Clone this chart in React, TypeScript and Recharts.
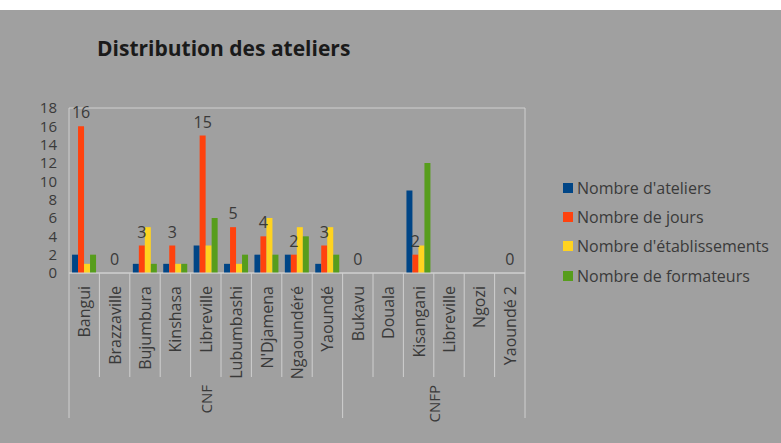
import React from "react";
import { ComposedChart, Bar, Line, XAxis, YAxis, CartesianGrid, LabelList } from "recharts";

const categories = ["Bangui", "Brazzaville", "Bujumbura", "Kinshasa", "Libreville", "Lubumbashi", "N'Djamena", "Ngaoundéré", "Yaoundé", "Bukavu", "Douala", "Kisangani", "Libreville", "Ngozi", "Yaoundé 2"];
const groups = ["CNF", "CNF", "CNF", "CNF", "CNF", "CNF", "CNF", "CNF", "CNF", "CNFP", "CNFP", "CNFP", "CNFP", "CNFP", "CNFP"];
const ateliers = [2, 0, 1, 1, 3, 1, 2, 2, 1, 0, null, 9, null, null, 0];
const jours = [16, 0, 3, 3, 15, 5, 4, 2, 3, 0, null, 2, null, null, 0];
const etablissements = [1, 0, 5, 1, 3, 1, 6, 5, 5, 0, null, 3, null, null, 0];
const formateurs = [2, 0, 1, 1, 6, 2, 2, 4, 2, 0, null, 12, null, null, 0];
const yTicks = [0, 2, 4, 6, 8, 10, 12, 14, 16, 18];

const seriesNames = ["Nombre d'ateliers", "Nombre de jours", "Nombre d'établissements", "Nombre de formateurs"];
const colors = ["#004586", "#ff420e", "#ffd320", "#579d1c"];

const data = categories.map((c, i) => ({
  name: c,
  group: groups[i],
  ateliers: ateliers[i],
  jours: jours[i],
  etablissements: etablissements[i],
  formateurs: formateurs[i],
  joursZero: jours[i] === 0 ? 0 : null,
}));

const W = 781;
const H = 433;
const M = { top: 98, right: 255, left: 29, bottom: 10 };
const YW = 40;
const PLOT_W = W - M.left - YW - M.right - 1;
const STEP = PLOT_W / categories.length;
const FONT = "'Open Sans', 'Noto Sans', sans-serif";
const LINE = "#cfcfcf";
const TXT = "#3a3a3a";

const CatTick = (props: any) => {
  const { x, y, payload, index } = props;
  const i = typeof index === "number" ? index : categories.indexOf(payload.value);
  const left = x - STEP / 2;
  const right = x + STEP / 2;
  const isGroupStart = i === 0 || groups[i] !== groups[i - 1];
  const isLast = i === categories.length - 1;
  const els: any[] = [];
  els.push(<line key="l" x1={left} x2={left} y1={y} y2={y + (isGroupStart ? 145 : 104)} stroke={LINE} strokeWidth={1} />);
  if (isLast) els.push(<line key="r" x1={right} x2={right} y1={y} y2={y + 145} stroke={LINE} strokeWidth={1} />);
  els.push(
    <text key="t" x={0} y={0} transform={`translate(${x + 6},${y + 13}) rotate(-90)`} textAnchor="end" fill={TXT} fontSize={16} fontFamily={FONT}>
      {payload.value}
    </text>
  );
  const gName = groups[i];
  const gIdx = groups.map((g, k) => (g === gName ? k : -1)).filter((k) => k >= 0);
  const mid = (gIdx[0] + gIdx[gIdx.length - 1]) / 2;
  if (Math.floor(mid) === i) {
    const gx = x + (mid - i) * STEP;
    els.push(
      <text key="g" x={0} y={0} transform={`translate(${gx + 6},${y + 112}) rotate(-90)`} textAnchor="end" fill={TXT} fontSize={15} fontFamily={FONT}>
        {gName}
      </text>
    );
  }
  return <g>{els}</g>;
};

const JoursLabel = (props: any) => {
  const { x, y, width, value } = props;
  if (value === null || value === undefined) return null;
  const cx = x + (width || 0) / 2;
  return (
    <text x={cx} y={y - 8} textAnchor="middle" fill={TXT} fontSize={16} fontFamily={FONT}>
      {value}
    </text>
  );
};

const LegendBox = () => (
  <div style={{ position: "absolute", left: 563, top: 163, fontFamily: FONT, fontSize: 16, color: TXT }}>
    {seriesNames.map((n, i) => (
      <div key={n} style={{ display: "flex", alignItems: "center", height: 29.4, whiteSpace: "nowrap" }}>
        <span style={{ display: "inline-block", width: 10, height: 10, background: colors[i], marginRight: 4 }} />
        <span>{n}</span>
      </div>
    ))}
  </div>
);

export default function App() {
  return (
    <div style={{ position: "fixed", left: 0, top: 0, width: W, height: 443, background: "#ffffff" }}>
      <div style={{ position: "absolute", left: 0, top: 10, width: W, height: H, background: "#a0a0a0" }}>
        <div style={{ position: "absolute", left: 97, top: 26, lineHeight: "24px", fontFamily: FONT, fontWeight: 700, fontSize: 21, color: "#1a1a1a", whiteSpace: "nowrap" }}>
          Distribution des ateliers
        </div>
        <LegendBox />
        <div style={{ position: "absolute", left: 0, top: 0 }}>
          <ComposedChart width={W} height={H} data={data} margin={M} barCategoryGap="10%" barGap={0}>
            <CartesianGrid vertical={false} stroke={LINE} strokeWidth={1} />
            <XAxis
              dataKey="name"
              interval={0}
              height={160}
              tickLine={false}
              tickSize={0}
              tickMargin={0}
              axisLine={{ stroke: LINE }}
              tick={<CatTick />}
            />
            <YAxis
              yAxisId="left"
              domain={[0, 18]}
              ticks={yTicks}
              width={YW}
              tickLine={false}
              tickSize={0}
              tickMargin={12}
              axisLine={{ stroke: LINE }}
              tick={{ fill: TXT, fontSize: 15, fontFamily: FONT }}
              interval={0}
            />
            <YAxis yAxisId="right" orientation="right" width={1} domain={[0, 18]} tick={false} tickLine={false} axisLine={{ stroke: LINE }} />
            <Bar yAxisId="left" dataKey="ateliers" name={seriesNames[0]} fill={colors[0]} isAnimationActive={false} />
            <Bar yAxisId="left" dataKey="jours" name={seriesNames[1]} fill={colors[1]} isAnimationActive={false}>
              <LabelList dataKey="jours" content={<JoursLabel />} />
            </Bar>
            <Bar yAxisId="left" dataKey="etablissements" name={seriesNames[2]} fill={colors[2]} isAnimationActive={false} />
            <Bar yAxisId="left" dataKey="formateurs" name={seriesNames[3]} fill={colors[3]} isAnimationActive={false} />
            <Line yAxisId="left" dataKey="joursZero" stroke="none" dot={false} activeDot={false} legendType="none" isAnimationActive={false}>
              <LabelList dataKey="joursZero" content={<JoursLabel />} />
            </Line>
          </ComposedChart>
        </div>
      </div>
    </div>
  );
}
